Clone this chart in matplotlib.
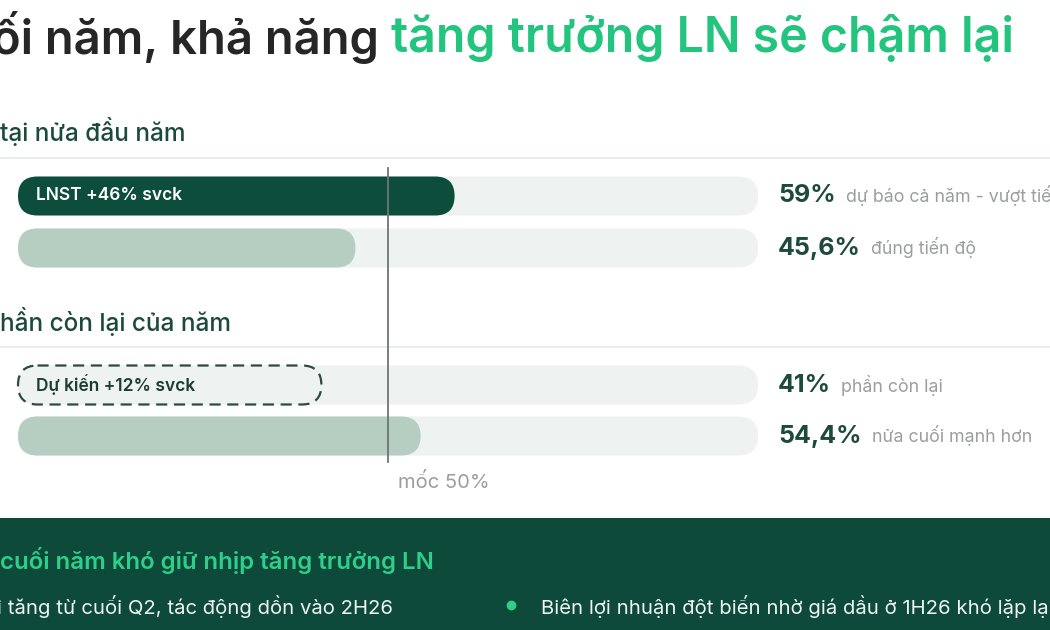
import matplotlib
matplotlib.use("Agg")
import matplotlib.pyplot as plt
from matplotlib.patches import FancyBboxPatch, Rectangle

plt.rcParams['font.family'] = ['Inter', 'DejaVu Sans']

# data
row_names = ["LNST +46% svck", "", "Dự kiến +12% svck", ""]
row_values = [59, 45.6, 41, 54.4]
value_labels = ["59%", "45,6%", "41%", "54,4%"]
value_notes = ["dự báo cả năm - vượt tiến độ", "đúng tiến độ", "phần còn lại", "nửa cuối mạnh hơn"]
row_styles = ["dark", "light", "dashed", "light"]
marker_value = 50
marker_label = "mốc 50%"
section_titles = ["tại nửa đầu năm", "hần còn lại của năm"]
bullets = ["i tăng từ cuối Q2, tác động dồn vào 2H26",
           "Biên lợi nhuận đột biến nhờ giá dầu ở 1H26 khó lặp lại"]

DARK = "#0d4d3b"
LIGHT = "#b6cdc2"
TRACK = "#eef2f0"
GREEN = "#22c47e"
GRAY = "#9b9e9d"

W, H = 1050, 630
fig = plt.figure(figsize=(W / 100, H / 100), dpi=100)

bg = fig.add_axes([0, 0, 1, 1])
bg.set_xlim(0, W)
bg.set_ylim(H, 0)
bg.axis("off")

# title
t1 = bg.text(-8, 38, "ối năm, khả năng ", fontsize=34, fontweight="semibold",
             color="#262626", va="center", ha="left")
bg.annotate("tăng trưởng LN sẽ chậm lại", xy=(1, 0.5), xycoords=t1,
            fontsize=34.8, fontweight="semibold", color=GREEN, va="center", ha="left")

# section headers and separators
bg.text(0, 132, section_titles[0], fontsize=17.5, fontweight="medium", color="#1b4a3c", va="center")
bg.plot([0, W], [158, 158], color="#e9eeec", lw=1.5)
bg.text(0, 321, section_titles[1], fontsize=17.5, fontweight="medium", color="#1b4a3c", va="center")
bg.plot([0, W], [347, 347], color="#e9eeec", lw=1.5)

# bars
x0, x1 = 18, 758
ax = fig.add_axes([x0 / W, 0, (x1 - x0) / W, 1])
ax.set_xlim(0, 100)
ax.set_ylim(H, 0)
ax.axis("off")
ax.patch.set_alpha(0)
aspect = (x1 - x0) / 100.0

row_y = [196, 248, 385, 436]
bar_h = 39
rad = bar_h / 2 / aspect


def pill(x, y, w, fc, ec="none", ls="-", lw=0, z=2):
    p = FancyBboxPatch((x + rad, y - bar_h / 2 + rad * aspect), w - 2 * rad, bar_h - 2 * rad * aspect,
                       boxstyle=f"round,pad={rad},rounding_size={rad}",
                       mutation_aspect=aspect, fc=fc, ec=ec, ls=ls, lw=lw,
                       zorder=z, clip_on=False)
    ax.add_patch(p)
    return p


for name, v, style, y in zip(row_names, row_values, row_styles, row_y):
    pill(0, y, 100, TRACK, z=1)
    if style == "dark":
        pill(0, y, v, DARK)
    elif style == "light":
        pill(0, y, v, LIGHT)
    else:
        pill(0, y, v, TRACK, ec="#2b4a40", ls=(0, (5, 3)), lw=1.6)
    if name:
        ax.text(2.4, y, name, fontsize=12.5, fontweight="semibold",
                color="white" if style == "dark" else "#1b3d33", va="center", zorder=4)

ax.plot([marker_value, marker_value], [168, 462], color="#6f7573", lw=1.3, zorder=5, clip_on=False)
ax.text(marker_value + 1.3, 482, marker_label, fontsize=14.5, color=GRAY, va="center")

for lab, note, y in zip(value_labels, value_notes, row_y):
    t = bg.text(778, y, lab, fontsize=18, fontweight="bold", color="#1d4a3c", va="center")
    bg.annotate("  " + note, xy=(1, 0.5), xycoords=t, fontsize=12.8,
                color=GRAY, va="center", ha="left")

# bottom panel
bg.add_patch(Rectangle((0, 518), W, H - 518, fc="#0d4a3a", ec="none"))
bg.text(0, 560, "cuối năm khó giữ nhịp tăng trưởng LN", fontsize=17.3,
        fontweight="semibold", color="#2fcf8a", va="center")
bg.text(-3, 607, bullets[0], fontsize=14.6, color="#eef4f1", va="center")
bg.plot([511], [605], "o", color="#2fcf8a", ms=6)
bg.text(541, 607, bullets[1], fontsize=14.6, color="#eef4f1", va="center")

fig.savefig("out.png", dpi=100)
